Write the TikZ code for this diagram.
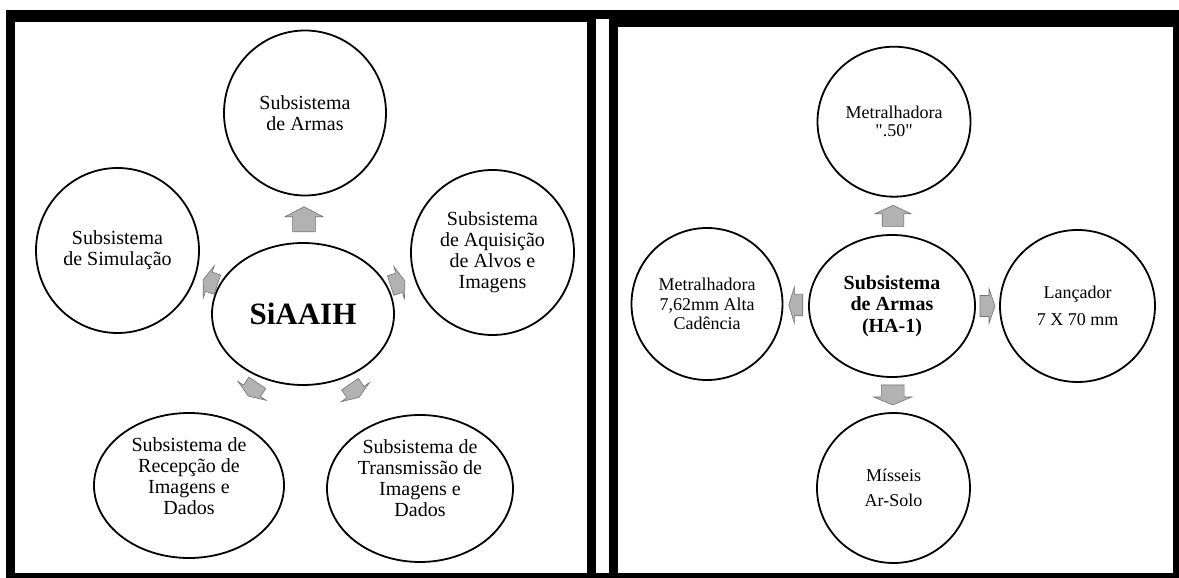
\documentclass[tikz,border=0pt]{standalone}
\usepackage{fontspec}
\setmainfont{Liberation Serif}
\usetikzlibrary{shapes.geometric,calc}
\tikzset{
  circ/.style={ellipse, draw=black, line width=1.8pt, inner sep=0pt, fill=white},
  ltxt/.style={align=center, font=\fontsize{20}{21}\selectfont, inner sep=0pt},
  rtxt/.style={align=center, font=\fontsize{18}{19.5}\selectfont, inner sep=0pt},
  arrowfill/.style={fill=black!30, draw=black!55, line width=0.6pt, line join=miter},
}
\newcommand\BlockArrow[5]{%
  \begin{scope}[shift={#1},rotate=#2,xscale=#3,yscale=#4]
    \coordinate (#5) at (0,0);
    \draw[arrowfill] (-0.5,-0.3) -- (0.1,-0.3) -- (0.1,-0.5) -- (0.5,0)
      -- (0.1,0.5) -- (0.1,0.3) -- (-0.5,0.3) -- cycle;
  \end{scope}}
\begin{document}
\begin{tikzpicture}[x=1pt,y=1pt]
\useasboundingbox (0,0) rectangle (1179,578);
% frames
\fill[black] (6,0) rectangle (1179,568);
\fill[white] (15,5) rectangle (587,556);
\fill[white] (596,5) rectangle (609,559);
\fill[white] (618,5) rectangle (1173,551);

% ---------- left panel ----------
\node[circ, minimum width=162, minimum height=165] (T)   at (305,465)   {};
\node[circ, minimum width=163, minimum height=165] (Sim) at (117.5,327.5) {};
\node[circ, minimum width=163, minimum height=165] (Aq)  at (492.5,325.5) {};
\node[circ, minimum width=182, minimum height=142] (C)   at (303,264)   {};
\node[circ, minimum width=190, minimum height=145] (BL)  at (189,92.5)  {};
\node[circ, minimum width=186, minimum height=147] (BR)  at (420,89.5)  {};

\node[ltxt] (Tt)   at (T)   {Subsistema\\de Armas};
\node[ltxt] (Simt) at (Sim) {Subsistema\\de Simulação};
\node[ltxt] (Aqt)  at (Aq)  {Subsistema\\de Aquisição\\de Alvos e\\Imagens};
\node[font=\bfseries\fontsize{31}{31}\selectfont, inner sep=0pt] (Ct) at (C) {SiAAIH};
\node[ltxt] (BLt)  at ([yshift=9]BL.center)  {Subsistema de\\Recepção de\\Imagens e\\Dados};
\node[ltxt] (BRt)  at ([yshift=10]BR.center) {Subsistema de\\Transmissão de\\Imagens e\\Dados};

\BlockArrow{($(C.north)!0.5!(T.south)$)}{90}{25}{38}{a1}
\BlockArrow{($(C)!0.5!(Sim)$)}{161}{15}{34}{a2}
\BlockArrow{($(C)!0.5!(Aq)$)}{18}{15}{34}{a3}
\BlockArrow{($(C)!0.44!(BL)$)}{236}{16}{34}{a4}
\BlockArrow{($(C)!0.44!(BR)$)}{304}{16}{34}{a5}

% ---------- right panel ----------
\node[circ, minimum width=153, minimum height=150] (RT) at (894,456.3)  {};
\node[circ, minimum width=151, minimum height=152] (RL) at (707,274)    {};
\node[circ, minimum width=166, minimum height=142] (RC) at (892,272)    {};
\node[circ, minimum width=155, minimum height=152] (RR) at (1077.5,272) {};
\node[circ, minimum width=153, minimum height=150] (RB) at (893.5,90)   {};

\node[rtxt] (RTt) at (RT) {Metralhadora\\[-1.5pt]\textquotedbl.50\textquotedbl};
\node[rtxt] (RLt) at (RL) {Metralhadora\\7,62mm Alta\\Cadência};
\node[align=center, inner sep=0pt, font=\bfseries\fontsize{20}{21.5}\selectfont] (RCt) at (RC) {Subsistema\\de Armas\\(HA-1)};
\node[rtxt] (RRt) at (RR) {Lançador\\[7.5pt]7 X 70 mm};
\node[rtxt] (RBt) at (RB) {Mísseis\\[5.5pt]Ar-Solo};

\BlockArrow{($(RC.north)!0.5!(RT.south)$)}{90}{21}{36}{b1}
\BlockArrow{($(RC.south)!0.5!(RB.north)$)}{270}{20}{38}{b2}
\BlockArrow{($(RC.west)!0.5!(RL.east)$)}{180}{14}{36}{b3}
\BlockArrow{($(RC.east)!0.5!(RR.west)$)}{0}{15}{35}{b4}
\end{tikzpicture}
\end{document}
